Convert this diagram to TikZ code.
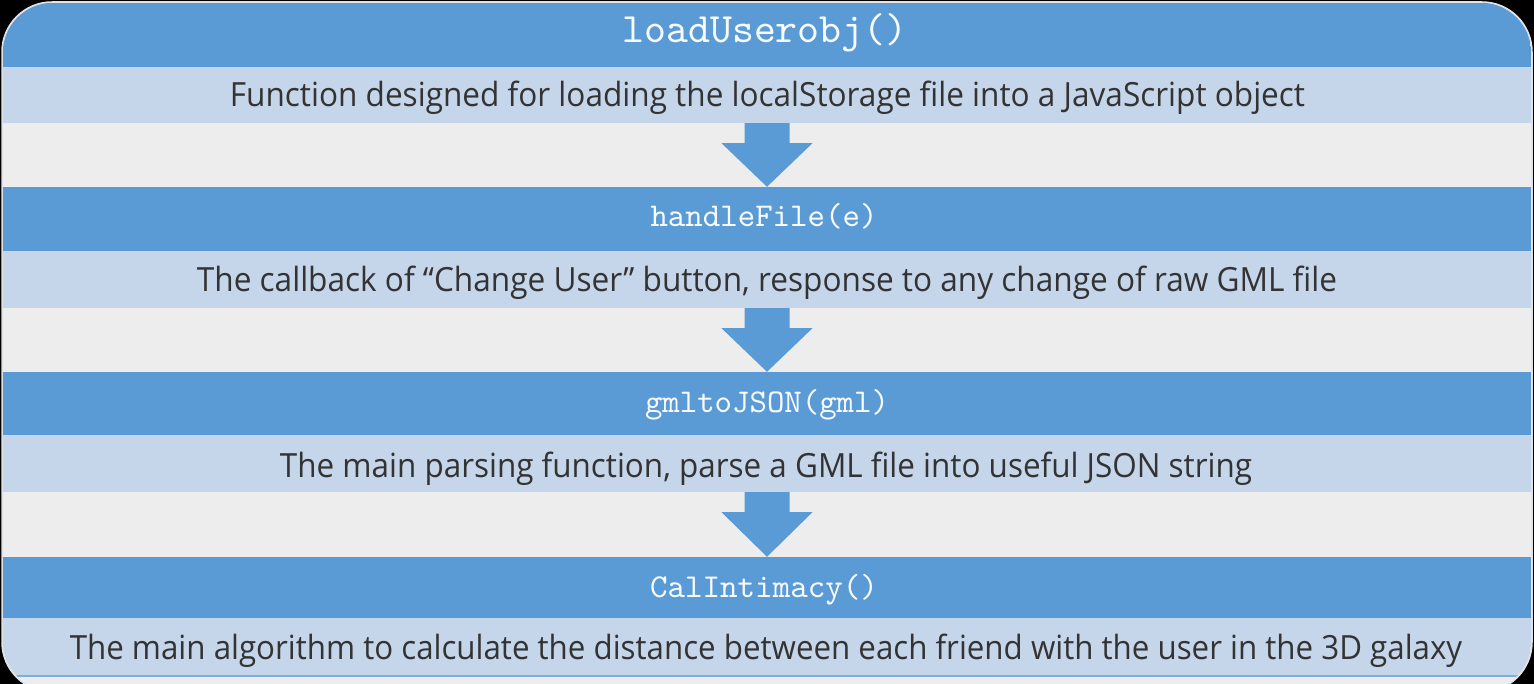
\documentclass[tikz,border=0pt]{standalone}
\usepackage{fontspec}
\setmainfont{Open Sans}
\usetikzlibrary{calc}
\definecolor{barblue}{HTML}{5B9BD5}
\definecolor{barlight}{HTML}{C5D5EA}
\definecolor{panelgray}{HTML}{EDEDED}
\definecolor{paneledge}{HTML}{E2E2E2}
\definecolor{bodytext}{HTML}{333333}
\tikzset{
  darkbar/.style={fill=barblue, draw=none, inner sep=0pt, minimum width=1528pt},
  lightbar/.style={fill=barlight, draw=none, inner sep=0pt, minimum width=1528pt},
  fname/.style={text=white!96!barblue, anchor=base, inner sep=0pt, font=\ttfamily},
  desc/.style={text=bodytext, anchor=base, inner sep=0pt},
}
\newcommand\fitline[2]{\resizebox{#1}{25.5pt}{#2}}
\newcommand\fitcode[2]{\resizebox{#1}{!}{#2}}
\newcommand\blockarrow[2]{%
  \fill[barblue] ($(#1.south)+(-22.5,0)$) -- ($(#1.south)+(22.5,0)$)
    -- ($(#1.south)+(22.5,20)$) -- ($(#1.south)+(45.5,20)$)
    -- (#2.north) -- ($(#1.south)+(-45.5,20)$)
    -- ($(#1.south)+(-22.5,20)$) -- cycle;}
\begin{document}
\begin{tikzpicture}[x=1pt, y=-1pt]
\useasboundingbox (0,0) rectangle (1534,684);
\fill[black] (0,0) rectangle (1534,684);
\path[fill=panelgray, draw=paneledge, line width=1.5pt, rounded corners=50pt] (2,2) rectangle (1532,692);
\begin{scope}
  \clip[rounded corners=50pt] (2.8,2.8) rectangle (1531.2,691);
  % block 1
  \node[darkbar, minimum height=64pt] (d1) at (767,35) {};
  \node[lightbar, minimum height=56pt] (l1) at (767,95) {};
  % block 2
  \node[darkbar, minimum height=64pt] (d2) at (767,219) {};
  \node[lightbar, minimum height=57pt] (l2) at (767,279.5) {};
  % block 3
  \node[darkbar, minimum height=63pt] (d3) at (767,403.5) {};
  \node[lightbar, minimum height=57pt] (l3) at (767,463.5) {};
  % block 4
  \node[darkbar, minimum height=61pt] (d4) at (767,587.5) {};
  \node[lightbar, minimum height=58pt] (l4) at (767,647) {};
  \draw[barblue!80, line width=1.5pt] (l4.south west) -- (l4.south east);
\end{scope}
% function names
\node[fname] (f1) at (765,43) {\fitcode{285pt}{loadUserobj()}};
\node[fname] (f2) at (764,227) {\fitcode{227pt}{handleFile(e)}};
\node[fname] (f3) at (767,412) {\fitcode{244pt}{gmltoJSON(gml)}};
\node[fname] (f4) at (764,597) {\fitcode{228pt}{CalIntimacy()}};
% descriptions
\node[desc] (t1) at (767.5,107) {\fitline{1075pt}{Function designed for loading the localStorage file into a JavaScript object}};
\node[desc] (t2) at (767,292) {\fitline{1140pt}{The callback of “Change User” button, response to any change of raw GML file}};
\node[desc] (t3) at (766,477) {\fitline{972pt}{The main parsing function, parse a GML file into useful JSON string}};
\node[desc] (t4) at (766,659) {\fitline{1392pt}{The main algorithm to calculate the distance between each friend with the user in the 3D galaxy}};
% arrows
\blockarrow{l1}{d2}
\blockarrow{l2}{d3}
\blockarrow{l3}{d4}
\end{tikzpicture}
\end{document}
